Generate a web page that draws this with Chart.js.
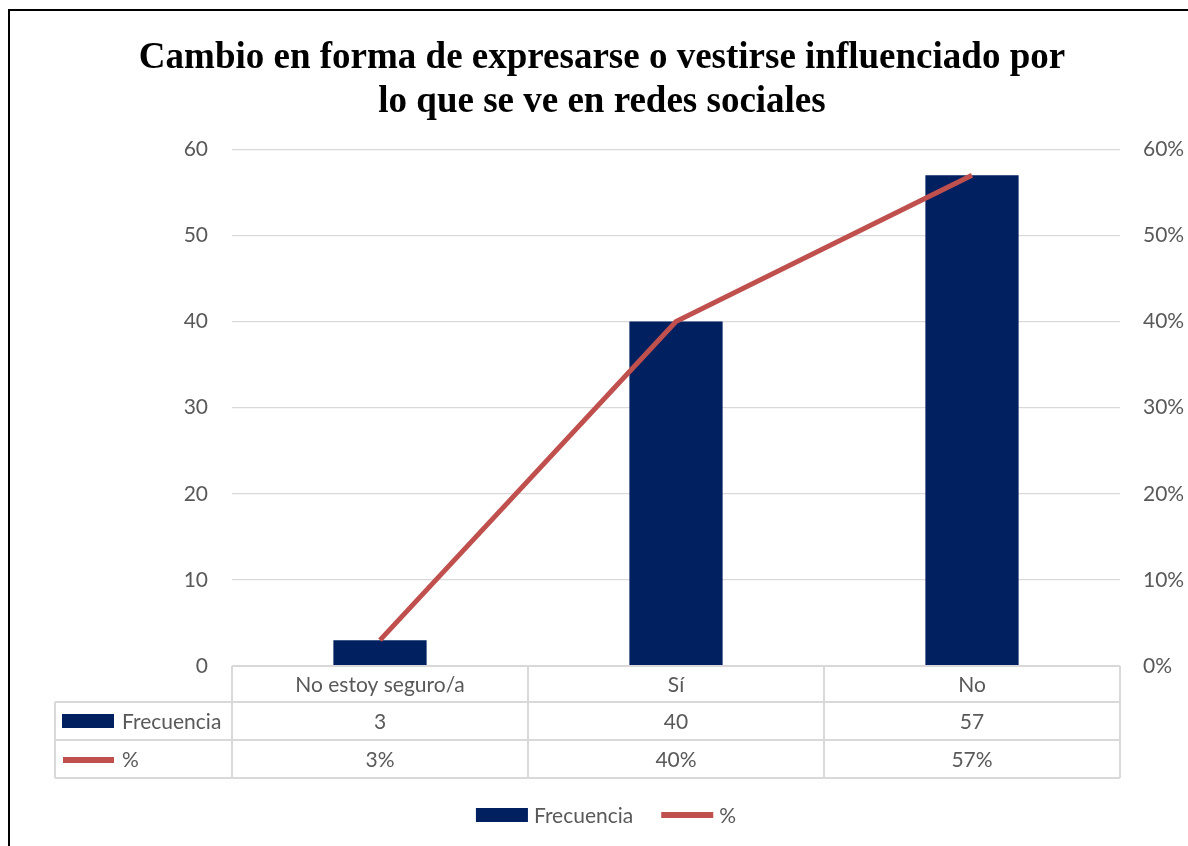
<!DOCTYPE html>
<html>
<head>
<meta charset="utf-8">
<script src="https://cdn.jsdelivr.net/npm/chart.js@4"></script>
<style>
html, body { margin: 0; padding: 0; background: #fff; }
#wrap { position: relative; width: 1188px; height: 846px; }
</style>
</head>
<body>
<div id="wrap"><canvas id="grafico" width="1188" height="846"></canvas></div>
<script>
// datos del grafico
const categorias = ['No estoy seguro/a', 'Sí', 'No']
const frecuencia = [3, 40, 57]
const porcentaje = [0.03, 0.40, 0.57]
const ticksIzq = [0, 10, 20, 30, 40, 50, 60]
const tituloLineas = ['Cambio en forma de expresarse o vestirse influenciado por', 'lo que se ve en redes sociales']
const etiquetaBarras = 'Frecuencia'
const etiquetaLinea = '%'

const azul = '#002060'
const rojo = '#C0504D'
const gris = '#595959'
const lineaGris = '#d9d9d9'
const fuente = 'Lato, "Open Sans", sans-serif'
const tamFuente = 21

const fmtPct = v => Math.round(v * 100) + '%'

function linea(ctx, x1, y1, x2, y2) {
    ctx.beginPath()
    ctx.moveTo(x1, y1)
    ctx.lineTo(x2, y2)
    ctx.stroke()
}

// tabla de datos bajo el eje, leyenda y marco
const tablaDatos = {
    id: 'tablaDatos',
    afterDraw(chart) {
        const ctx = chart.ctx
        const xs = chart.scales.x
        const area = chart.chartArea
        const n = categorias.length
        const ancho = (area.right - area.left) / n
        const filas = [area.bottom, area.bottom + 36, area.bottom + 74, area.bottom + 112]
        const izq = 55

        ctx.save()
        ctx.strokeStyle = lineaGris
        ctx.lineWidth = 2
        linea(ctx, area.left, filas[0], area.right, filas[0])
        for (let i = 1; i < filas.length; i++) linea(ctx, izq, filas[i], area.right, filas[i])
        linea(ctx, izq, filas[1], izq, filas[3])
        for (let i = 0; i <= n; i++) {
            const xv = area.left + i * ancho
            linea(ctx, xv, filas[0], xv, filas[3])
        }

        ctx.fillStyle = gris
        ctx.font = tamFuente + 'px ' + fuente
        ctx.textAlign = 'center'
        ctx.textBaseline = 'middle'
        categorias.forEach((c, i) => {
            const cx = xs.getPixelForValue(i)
            ctx.fillText(c, cx, (filas[0] + filas[1]) / 2 + 1)
            ctx.fillText(String(frecuencia[i]), cx, (filas[1] + filas[2]) / 2 + 1)
            ctx.fillText(fmtPct(porcentaje[i]), cx, (filas[2] + filas[3]) / 2 + 1)
        })

        // claves de la tabla
        ctx.textAlign = 'left'
        ctx.fillStyle = azul
        ctx.fillRect(62, 714, 52, 14)
        ctx.fillStyle = rojo
        ctx.fillRect(63, 757, 51, 6)
        ctx.fillStyle = gris
        ctx.fillText(etiquetaBarras, 122, (filas[1] + filas[2]) / 2 + 1)
        ctx.fillText(etiquetaLinea, 122, (filas[2] + filas[3]) / 2 + 1)

        // leyenda inferior
        const wF = ctx.measureText(etiquetaBarras).width
        const wP = ctx.measureText(etiquetaLinea).width
        const total = 52 + 6 + wF + 28 + 52 + 6 + wP
        let lx = 606 - total / 2
        const ly = 815
        ctx.fillStyle = azul
        ctx.fillRect(lx, ly - 7, 52, 14)
        lx += 58
        ctx.fillStyle = gris
        ctx.fillText(etiquetaBarras, lx, ly + 1)
        lx += wF + 28
        ctx.fillStyle = rojo
        ctx.fillRect(lx, ly - 3, 52, 6)
        lx += 58
        ctx.fillStyle = gris
        ctx.fillText(etiquetaLinea, lx, ly + 1)

        // marco
        ctx.fillStyle = '#000'
        ctx.fillRect(8, 9, 1180, 2)
        ctx.fillRect(8, 9, 2, 837)
        ctx.restore()
    }
}

const grafico = new Chart(document.getElementById('grafico'), {
    type: 'bar',
    data: {
        labels: categorias,
        datasets: [
            {
                type: 'line',
                label: etiquetaLinea,
                data: porcentaje,
                yAxisID: 'y1',
                borderColor: rojo,
                backgroundColor: rojo,
                borderWidth: 5,
                pointRadius: 0,
                tension: 0,
                order: 0
            },
            {
                type: 'bar',
                label: etiquetaBarras,
                data: frecuencia,
                yAxisID: 'y',
                backgroundColor: azul,
                barPercentage: 1,
                categoryPercentage: 0.315,
                order: 1
            }
        ]
    },
    options: {
        responsive: false,
        animation: false,
        devicePixelRatio: 1,
        layout: { padding: { left: 16, right: 0, top: 0, bottom: 180 } },
        plugins: {
            legend: { display: false },
            tooltip: { enabled: false },
            title: {
                display: true,
                text: tituloLineas,
                color: '#000',
                font: { family: '"Liberation Serif", "Times New Roman", serif', size: 37, weight: 'bold', lineHeight: 1.18 },
                padding: { top: 37, bottom: 25 }
            }
        },
        scales: {
            x: { display: false },
            y: {
                position: 'left',
                min: ticksIzq[0],
                max: ticksIzq[ticksIzq.length - 1],
                afterBuildTicks: s => { s.ticks = ticksIzq.map(v => ({ value: v })) },
                afterFit: s => { s.width = 216 },
                ticks: { color: gris, font: { family: fuente, size: tamFuente }, padding: 24 },
                grid: { color: lineaGris, lineWidth: 1.3, drawTicks: false },
                border: { display: false }
            },
            y1: {
                position: 'right',
                min: 0,
                max: 0.6,
                afterFit: s => { s.width = 68 },
                ticks: { stepSize: 0.1, color: gris, font: { family: fuente, size: tamFuente }, padding: 23, callback: fmtPct },
                grid: { display: false, drawTicks: false },
                border: { display: false }
            }
        }
    },
    plugins: [tablaDatos]
})
</script>
</body>
</html>
